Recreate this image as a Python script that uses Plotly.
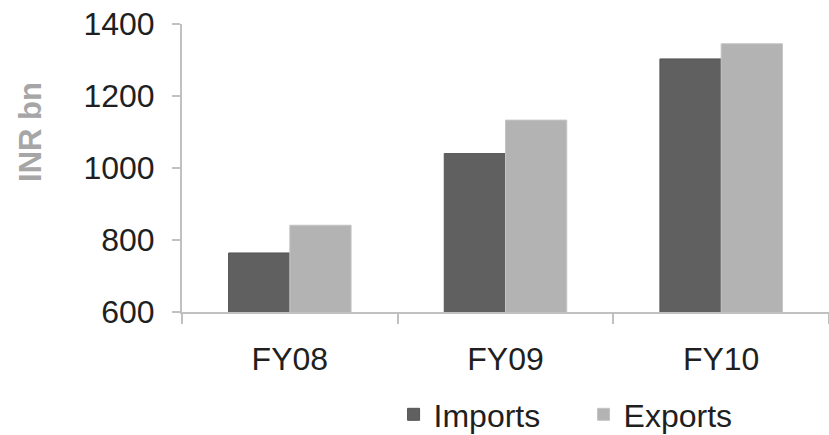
import plotly.graph_objects as go

categories = ["FY08", "FY09", "FY10"]
imports = [764, 1040, 1303]
exports = [841, 1133, 1345]
y_ticks = [600, 800, 1000, 1200, 1400]

FONT = "Liberation Sans, Arial, sans-serif"

fig = go.Figure()
fig.add_trace(go.Bar(
    name="Imports", x=categories, y=imports,
    marker=dict(color="#606060", line=dict(color="#555555", width=1)),
))
fig.add_trace(go.Bar(
    name="Exports", x=categories, y=exports,
    marker=dict(color="#b3b3b3", line=dict(color="#c4c4c4", width=1)),
))

fig.update_layout(
    width=829, height=435,
    margin=dict(l=182, r=0, t=24, b=123, autoexpand=False),
    paper_bgcolor="white", plot_bgcolor="white",
    barmode="group", bargap=0.432, bargroupgap=0,
    font=dict(family=FONT, size=32, color="#1f1f1f"),
    showlegend=True,
    legend=dict(
        orientation="h", x=0.327, xanchor="left", y=-0.356, yanchor="middle",
        font=dict(family=FONT, size=32, color="#1f1f1f"),
        entrywidth=145, entrywidthmode="pixels",
        bgcolor="rgba(0,0,0,0)",
    ),
    xaxis=dict(
        showline=True, linecolor="#c0c0c0", linewidth=2,
        ticks="outside", tickson="boundaries", ticklen=10, tickcolor="#c0c0c0", tickwidth=2,
        showgrid=False, zeroline=False, automargin=False,
        ticklabelstandoff=18,
        tickfont=dict(family=FONT, size=32, color="#1f1f1f"),
    ),
    yaxis=dict(
        range=[600, 1400], tickvals=y_ticks,
        showline=True, linecolor="#c0c0c0", linewidth=2,
        ticks="outside", ticklen=8, tickcolor="#c0c0c0", tickwidth=2,
        showgrid=False, zeroline=False, automargin=False,
        ticklabelstandoff=11,
        tickfont=dict(family=FONT, size=32, color="#1f1f1f"),
    ),
    annotations=[dict(
        text="<b>INR bn</b>", textangle=-90,
        xref="paper", yref="paper", x=-0.235, y=0.625,
        xanchor="center", yanchor="middle", showarrow=False,
        font=dict(family=FONT, size=31, color="#a6a6a6"),
    )],
)

fig.write_html(
    "out.html",
    config={"displayModeBar": False},
    post_script="document.body.style.margin='0';document.body.style.overflow='hidden';",
)
